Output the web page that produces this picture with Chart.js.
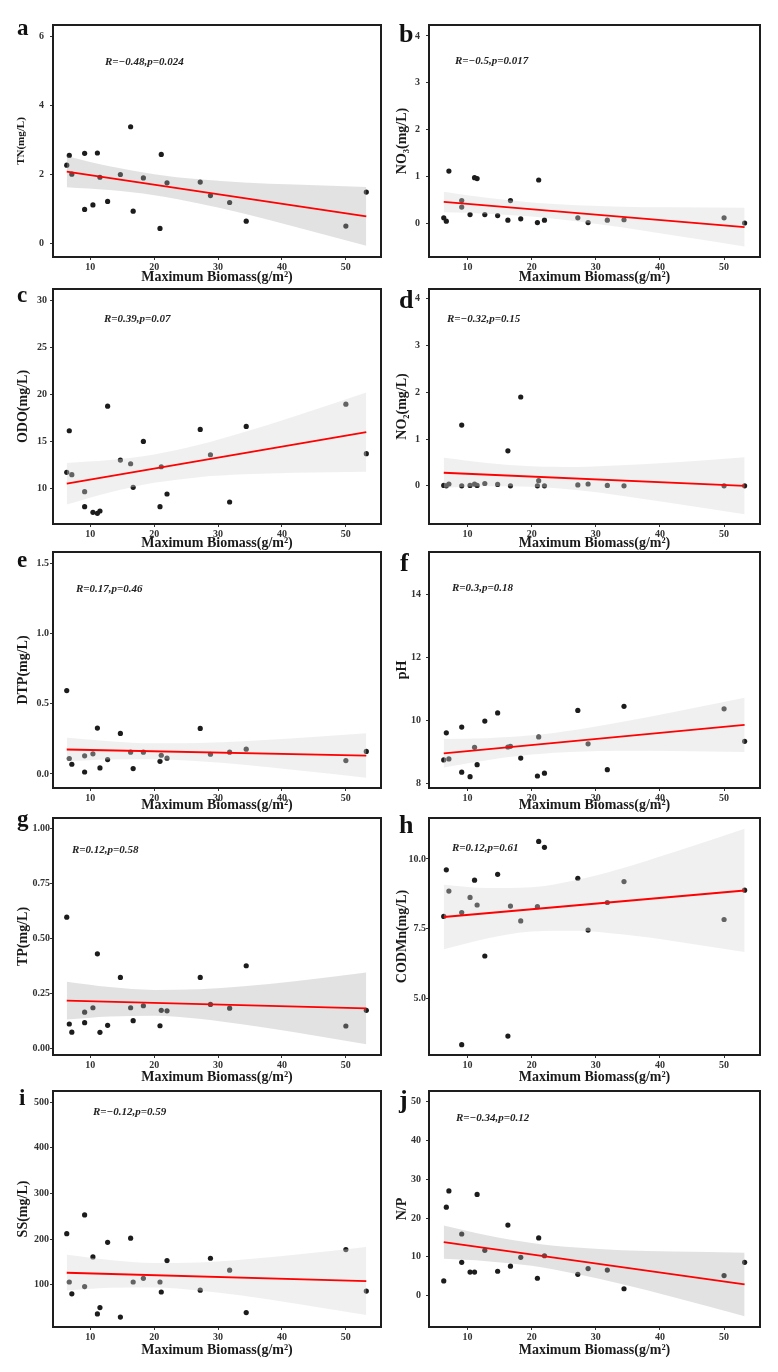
<!DOCTYPE html>
<html>
<head>
<meta charset="utf-8">
<script src="https://cdn.jsdelivr.net/npm/chart.js@4.4.0/dist/chart.umd.min.js"></script>
<style>
  html, body { margin: 0; padding: 0; background: #fff; }
  #page { position: relative; width: 778px; height: 1372px; overflow: hidden; }
  #page canvas { position: absolute; }
</style>
</head>
<body>
<div id="page"></div>
<script>
// x values shared by all panels (maximum biomass, g/m2)
const biomass = [6.3, 6.7, 7.1, 9.1, 9.1, 10.4, 11.1, 11.5, 12.7, 14.7, 16.3, 16.7, 18.3, 20.9, 21.1, 22.0, 27.2, 28.8, 31.8, 34.4, 50.0, 53.2];
const xTicks = [10, 20, 30, 40, 50];
// x positions where the confidence band was read
const bandX = [6.3, 13, 20, 27, 34, 42, 53.2];
const fitX = [6.3, 53.2];

const tnY = [2.27, 2.55, 2.01, 2.61, 0.99, 1.12, 2.62, 1.92, 1.22, 2.00, 3.38, 0.94, 1.90, 0.44, 2.58, 1.76, 1.78, 1.39, 1.19, 0.65, 0.51, 1.49];
const tnFit = [2.08, 0.79];
const tnUpper = [2.53, 2.24, 2.01, 1.86, 1.77, 1.71, 1.64];
const tnLower = [1.63, 1.55, 1.40, 1.16, 0.87, 0.49, -0.06];

const no3Y = [0.11, 0.04, 1.11, 0.48, 0.34, 0.18, 0.97, 0.95, 0.18, 0.16, 0.06, 0.48, 0.09, 0.01, 0.92, 0.06, 0.11, 0.01, 0.06, 0.07, 0.11, 0.0];
const no3Fit = [0.45, -0.09];
const no3Upper = [0.67, 0.54, 0.44, 0.38, 0.35, 0.335, 0.325];
const no3Lower = [0.23, 0.20, 0.14, 0.04, -0.09, -0.26, -0.50];

const odoY = [11.67, 16.11, 11.42, 9.61, 8.01, 7.41, 7.30, 7.55, 18.74, 12.98, 12.59, 10.07, 14.97, 8.01, 12.27, 9.36, 16.25, 13.55, 8.51, 16.57, 18.95, 13.66];
const odoFit = [10.46, 15.97];
const odoUpper = [12.68, 12.98, 13.59, 14.62, 15.96, 17.67, 20.2];
const odoLower = [8.24, 9.52, 10.55, 11.16, 11.46, 11.63, 11.74];

const no2Y = [0.01, 0.0, 0.04, 1.30, 0.0, 0.01, 0.04, 0.01, 0.05, 0.03, 0.75, 0.0, 1.90, 0.0, 0.11, 0.0, 0.02, 0.04, 0.01, 0.0, 0.0, 0.0];
const no2Fit = [0.28, 0.0];
const no2Upper = [0.60, 0.49, 0.42, 0.405, 0.44, 0.50, 0.61];
const no2Lower = [-0.04, -0.01, -0.02, -0.09, -0.21, -0.37, -0.61];

const dtpY = [0.593, 0.11, 0.069, 0.129, 0.014, 0.143, 0.326, 0.043, 0.102, 0.288, 0.155, 0.038, 0.155, 0.09, 0.133, 0.112, 0.324, 0.14, 0.155, 0.176, 0.095, 0.16];
const dtpFit = [0.174, 0.131];
const dtpUpper = [0.257, 0.233, 0.218, 0.220, 0.233, 0.254, 0.289];
const dtpLower = [0.091, 0.103, 0.104, 0.090, 0.065, 0.028, -0.027];

const phY = [8.76, 9.62, 8.79, 9.80, 8.37, 8.23, 9.16, 8.61, 9.99, 10.25, 9.17, 9.19, 8.82, 8.25, 9.49, 8.34, 10.33, 9.27, 8.45, 10.46, 10.38, 9.35];
const phFit = [8.97, 9.87];
const phUpper = [9.42, 9.45, 9.54, 9.72, 9.96, 10.27, 10.73];
const phLower = [8.52, 8.75, 8.93, 9.02, 9.05, 9.04, 9.01];

const tpY = [0.597, 0.111, 0.074, 0.165, 0.117, 0.185, 0.43, 0.073, 0.105, 0.323, 0.185, 0.126, 0.194, 0.103, 0.173, 0.171, 0.323, 0.2, 0.183, 0.376, 0.102, 0.173];
const tpFit = [0.217, 0.182];
const tpUpper = [0.303, 0.279, 0.266, 0.269, 0.283, 0.306, 0.345];
const tpLower = [0.131, 0.145, 0.149, 0.135, 0.109, 0.074, 0.019];

const codY = [7.94, 9.61, 8.85, 8.08, 3.34, 8.62, 9.24, 8.35, 6.52, 9.45, 3.65, 8.31, 7.78, 8.29, 10.63, 10.42, 9.31, 7.45, 8.44, 9.19, 7.83, 8.88];
const codFit = [7.92, 8.87];
const codUpper = [9.08, 8.96, 8.99, 9.25, 9.66, 10.23, 11.08];
const codLower = [6.76, 7.15, 7.40, 7.43, 7.30, 7.06, 6.66];

const ssY = [212, 106, 80, 253, 96, 161, 36, 50, 193, 29, 202, 106, 114, 106, 84, 153, 88, 158, 132, 39, 177, 86];
const ssFit = [126.3, 108.0];
const ssUpper = [165.5, 154.3, 147.7, 148.8, 155.2, 165.7, 182.5];
const ssLower = [87.1, 93.1, 94.1, 87.6, 75.8, 59.1, 33.5];

const npY = [3.8, 22.8, 27.0, 15.9, 8.6, 6.1, 6.1, 26.1, 11.7, 6.3, 18.2, 7.6, 9.9, 4.5, 14.9, 10.3, 5.5, 7.0, 6.6, 1.8, 5.2, 8.6];
const npFit = [13.8, 2.92];
const npUpper = [18.1, 15.6, 13.6, 12.4, 11.7, 11.4, 11.1];
const npLower = [9.5, 8.9, 7.7, 5.6, 3.0, -0.35, -5.3];

// layout of the 5 x 2 grid
const rows = [
  { top: 25, bottom: 257, xAxisH: 27 },
  { top: 289, bottom: 524, xAxisH: 26 },
  { top: 552, bottom: 788, xAxisH: 24 },
  { top: 818, bottom: 1055, xAxisH: 29 },
  { top: 1091, bottom: 1327, xAxisH: 30 }
];
const columns = [
  { left: 0, width: 388, padLeft: 16, yAxisW: 37, padRight: 7, xMin: 4.15, xMax: 55.5, letterSize: 23 },
  { left: 388, width: 390, padLeft: 7, yAxisW: 34, padRight: 18, xMin: 4.0, xMax: 55.6, letterSize: 26 }
];

const GREY_BAND = 'rgba(175,175,175,0.36)';
const LIGHT_BAND = 'rgba(212,216,213,0.38)';
const SERIF = "'Liberation Serif', 'Times New Roman', serif";

const panels = [
  { row: 0, col: 0, letter: 'a', letterPos: [17, 35], title: 'TN(mg/L)', titleSize: 11, y: tnY, fit: tnFit, upper: tnUpper, lower: tnLower,
    min: -0.385, max: 6.32, ticks: [0, 2, 4, 6], dec: 0, tickPad: 6, stat: 'R=\u22120.48,p=0.024', statPos: [105, 62], band: GREY_BAND },
  { row: 0, col: 1, letter: 'b', letterPos: [399, 42], title: 'NO\u2083(mg/L)', titleSize: 14, y: no3Y, fit: no3Fit, upper: no3Upper, lower: no3Lower,
    min: -0.727, max: 4.235, ticks: [0, 1, 2, 3, 4], dec: 0, tickPad: 6, stat: 'R=\u22120.5,p=0.017', statPos: [455, 61], band: LIGHT_BAND },
  { row: 1, col: 0, letter: 'c', letterPos: [17, 302], title: 'ODO(mg/L)', titleSize: 14, y: odoY, fit: odoFit, upper: odoUpper, lower: odoLower,
    min: 6.16, max: 31.24, ticks: [10, 15, 20, 25, 30], dec: 0, tickPad: 3, stat: 'R=0.39,p=0.07', statPos: [104, 319], band: LIGHT_BAND },
  { row: 1, col: 1, letter: 'd', letterPos: [399, 308], title: 'NO\u2082(mg/L)', titleSize: 14, y: no2Y, fit: no2Fit, upper: no2Upper, lower: no2Lower,
    min: -0.816, max: 4.21, ticks: [0, 1, 2, 3, 4], dec: 0, tickPad: 6, stat: 'R=\u22120.32,p=0.15', statPos: [447, 319], band: LIGHT_BAND },
  { row: 2, col: 0, letter: 'e', letterPos: [17, 567], title: 'DTP(mg/L)', titleSize: 14, y: dtpY, fit: dtpFit, upper: dtpUpper, lower: dtpLower,
    min: -0.1, max: 1.579, ticks: [0, 0.5, 1, 1.5], dec: 1, tickPad: 1, stat: 'R=0.17,p=0.46', statPos: [76, 589], band: LIGHT_BAND },
  { row: 2, col: 1, letter: 'f', letterPos: [400, 571], title: 'pH', titleSize: 14, y: phY, fit: phFit, upper: phUpper, lower: phLower,
    min: 7.87, max: 15.35, ticks: [8, 10, 12, 14], dec: 0, tickPad: 5, stat: 'R=0.3,p=0.18', statPos: [452, 588], band: LIGHT_BAND },
  { row: 3, col: 0, letter: 'g', letterPos: [17, 826], title: 'TP(mg/L)', titleSize: 14, y: tpY, fit: tpFit, upper: tpUpper, lower: tpLower,
    min: -0.03, max: 1.048, ticks: [0, 0.25, 0.5, 0.75, 1], dec: 2, tickPad: 0, stat: 'R=0.12,p=0.58', statPos: [72, 850], band: GREY_BAND },
  { row: 3, col: 1, letter: 'h', letterPos: [399, 833], title: 'CODMn(mg/L)', titleSize: 14, y: codY, fit: codFit, upper: codUpper, lower: codLower,
    min: 2.97, max: 11.47, ticks: [5, 7.5, 10], dec: 1, tickPad: 0, stat: 'R=0.12,p=0.61', statPos: [452, 848], band: LIGHT_BAND },
  { row: 4, col: 0, letter: 'i', letterPos: [19, 1105], title: 'SS(mg/L)', titleSize: 14, y: ssY, fit: ssFit, upper: ssUpper, lower: ssLower,
    min: 7.3, max: 524.8, ticks: [100, 200, 300, 400, 500], dec: 0, tickPad: 1, stat: 'R=\u22120.12,p=0.59', statPos: [93, 1112], band: LIGHT_BAND },
  { row: 4, col: 1, letter: 'j', letterPos: [399, 1108], title: 'N/P', titleSize: 14, y: npY, fit: npFit, upper: npUpper, lower: npLower,
    min: -8.06, max: 52.74, ticks: [0, 10, 20, 30, 40, 50], dec: 0, tickPad: 5, stat: 'R=\u22120.34,p=0.12', statPos: [456, 1118], band: GREY_BAND }
];

// frame, panel letter and R/p label
const panelDecor = {
  id: 'panelDecor',
  afterDraw(chart, args, opts) {
    const { ctx, chartArea: a } = chart;
    ctx.save();
    ctx.strokeStyle = '#1e1e1e';
    ctx.lineWidth = 2;
    ctx.strokeRect(a.left, a.top, a.right - a.left, a.bottom - a.top);
    ctx.fillStyle = '#111';
    ctx.textAlign = 'left';
    ctx.textBaseline = 'alphabetic';
    ctx.font = 'bold ' + opts.letterSize + 'px ' + SERIF;
    ctx.fillText(opts.letter, opts.letterX, opts.letterY);
    ctx.fillStyle = '#222';
    ctx.textBaseline = 'middle';
    ctx.font = 'italic bold 11px ' + SERIF;
    ctx.fillText(opts.stat, opts.statX, opts.statY);
    ctx.restore();
  }
};

const page = document.getElementById('page');
const tickFont = { family: SERIF, size: 10, weight: 'bold' };

panels.forEach(function(p) {
  const r = rows[p.row];
  const c = columns[p.col];
  const top = r.top - 25;
  const height = r.bottom - r.top + 25 + r.xAxisH + 4;

  const cv = document.createElement('canvas');
  cv.width = c.width;
  cv.height = height;
  cv.style.left = c.left + 'px';
  cv.style.top = top + 'px';
  cv.style.width = c.width + 'px';
  cv.style.height = height + 'px';
  page.appendChild(cv);

  const points = biomass.map((x, i) => ({ x: x, y: p.y[i] }));
  const upper = bandX.map((x, i) => ({ x: x, y: p.upper[i] }));
  const lower = bandX.map((x, i) => ({ x: x, y: p.lower[i] }));
  const fit = fitX.map((x, i) => ({ x: x, y: p.fit[i] }));

  new Chart(cv.getContext('2d'), {
    type: 'scatter',
    data: {
      datasets: [
        { type: 'line', data: fit, borderColor: '#ff0000', borderWidth: 1.8, pointRadius: 0, fill: false, order: 0 },
        { type: 'line', data: upper, borderColor: 'rgba(0,0,0,0)', pointRadius: 0, fill: '+1',
          backgroundColor: p.band, cubicInterpolationMode: 'monotone', order: 1 },
        { type: 'line', data: lower, borderColor: 'rgba(0,0,0,0)', pointRadius: 0, fill: false,
          cubicInterpolationMode: 'monotone', order: 1 },
        { type: 'scatter', data: points, backgroundColor: '#1c1c1c', borderWidth: 0, pointRadius: 2.6, order: 2 }
      ]
    },
    options: {
      responsive: false,
      devicePixelRatio: 1,
      animation: false,
      events: [],
      layout: { padding: { left: c.padLeft, right: c.padRight, top: 25, bottom: 4 } },
      plugins: {
        legend: { display: false },
        tooltip: { enabled: false },
        panelDecor: {
          letter: p.letter, letterSize: c.letterSize,
          letterX: p.letterPos[0] - c.left, letterY: p.letterPos[1] - top,
          stat: p.stat, statX: p.statPos[0] - c.left, statY: p.statPos[1] - top
        }
      },
      scales: {
        x: {
          type: 'linear',
          min: c.xMin,
          max: c.xMax,
          afterBuildTicks: s => { s.ticks = xTicks.map(v => ({ value: v })); },
          afterFit: s => { s.height = r.xAxisH; },
          ticks: { font: tickFont, color: '#333', padding: 1, callback: v => String(v) },
          grid: { drawOnChartArea: false, drawTicks: true, tickLength: 3, color: '#333' },
          border: { display: false },
          title: { display: true, text: 'Maximum Biomass(g/m\u00b2)', color: '#1a1a1a', padding: 0,
                   font: { family: SERIF, size: 14, weight: 'bold', lineHeight: 1 } }
        },
        y: {
          type: 'linear',
          min: p.min,
          max: p.max,
          afterBuildTicks: s => { s.ticks = p.ticks.map(v => ({ value: v })); },
          afterFit: s => { s.width = c.yAxisW; },
          ticks: { font: tickFont, color: '#333', padding: p.tickPad, callback: v => v.toFixed(p.dec) },
          grid: { drawOnChartArea: false, drawTicks: true, tickLength: 3, color: '#333' },
          border: { display: false },
          title: { display: true, text: p.title, color: '#1a1a1a', padding: 0,
                   font: { family: SERIF, size: p.titleSize, weight: 'bold', lineHeight: 1 } }
        }
      }
    },
    plugins: [panelDecor]
  });
});
</script>
</body>
</html>
